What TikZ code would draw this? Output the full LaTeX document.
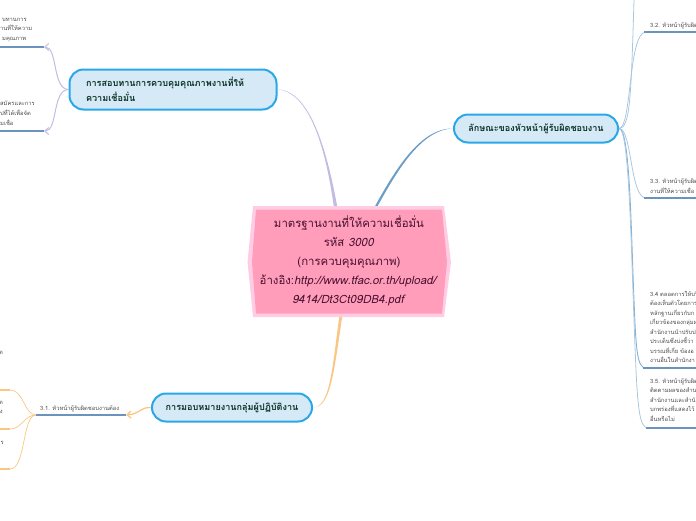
\documentclass[tikz,border=0pt]{standalone}
\usepackage{fontspec}
\setmainfont{Loma}[Script=Thai]
\usetikzlibrary{arrows.meta}
\definecolor{bluebd}{HTML}{2AA7E8}
\definecolor{bluefill}{HTML}{D6E9F6}
\definecolor{darkgreen}{HTML}{0B3326}
\definecolor{pinkfill}{HTML}{FF9DBB}
\definecolor{pinkbd}{HTML}{FFCDE3}
\definecolor{maroon}{HTML}{4A1030}
\definecolor{lav}{HTML}{C4BBE0}
\definecolor{steel}{HTML}{6C9DC6}
\definecolor{steellt}{HTML}{A9C8E0}
\definecolor{orng}{HTML}{F9C784}
\definecolor{ulcol}{HTML}{6C93BE}
\tikzset{
  x=1pt,y=-1pt,
  topic/.style={draw=bluebd,fill=bluefill,line width=2pt,rounded corners=14pt,text=darkgreen,font=\fontsize{9.1}{15}\selectfont\bfseries,minimum height=28pt,inner sep=0pt},
  leaf/.style={font=\fontsize{5.8}{9.5}\selectfont,text=black!70,anchor=north west,align=left,inner sep=0pt},
  cutleaf/.style={font=\fontsize{5.8}{9.7}\selectfont,text=black!70,anchor=west,align=left,inner sep=0pt},
  ulin/.style={draw=ulcol,line width=1.2pt},
  lavl/.style={draw=lav,line width=1pt},
  bl/.style={draw=steellt,line width=.8pt},
  orl/.style={draw=orng,line width=.7pt},
  barb/.style={-{Straight Barb[length=4pt,width=7pt]}},
}
\begin{document}
\begin{tikzpicture}
\useasboundingbox (0,0) rectangle (696,520);
% topics
\node[topic,minimum width=207pt,minimum height=40pt,align=left,text width=174pt] (t1) at (173,89.5) {การสอบทานการควบคุมคุณภาพงานที่ให้\\ความเชื่อมั่น};
\node[topic,minimum width=164pt] (t2) at (536,128.5) {ลักษณะของหัวหน้าผู้รับผิดชอบงาน};
\node[topic,minimum width=160pt] (t3) at (232,407.5) {การมอบหมายงานกลุ่มผู้ปฏิบัติงาน};
% main connectors (tapered)
\fill[lav] (334,208) .. controls (326,150) and (310,92) .. (t1.east) .. controls (310,90) and (327,150) .. (337.5,208) -- cycle;
\fill[steel] (374,208) .. controls (395,170) and (420,128) .. (t2.west) .. controls (421,129.5) and (397,171) .. (376.5,208) -- cycle;
\fill[orng] (339.5,315) .. controls (332,370) and (330,407) .. (t3.east) .. controls (331,408) and (334,370) .. (342.5,315) -- cycle;
% centre node
\fill[pinkbd] (247.5,262) -- (253,206) -- (444,206) -- (451,262) -- (444,317) -- (253,317) -- cycle;
\fill[pinkfill] (252,262) -- (256,209.5) -- (442,209.5) -- (447,262) -- (442,313.5) -- (256,313.5) -- cycle;
\node[text=maroon,align=center,font=\fontsize{11.4}{19}\selectfont] (ctext) at (349,261) {มาตรฐานงานที่ให้ความเชื่อมั่น\\รหัส \textit{3000}\\(การควบคุมคุณภาพ)\\อ้างอิง:\textit{http://www.tfac.or.th/upload/}\\\textit{9414/Dt3Ct09DB4.pdf}};
% left top leaves
\coordinate (l1) at (44,47);
\coordinate (l2) at (44,131);
\draw[ulin] (l1) -- (0,47);
\draw[ulin] (l2) -- (0,131);
\draw[lavl,barb] (t1.west) .. controls (52,89) and (58,47) .. (l1);
\draw[lavl,barb] (t1.west) .. controls (52,90) and (58,131) .. (l2);
\node[cutleaf] (a1) at (0,30) {\hspace*{2pt}บทานการ\\านที่ให้ความ\\\hspace*{2pt}มคุณภาพ};
\node[cutleaf] (a2) at (0,113) {สมัครและการ\\ุปที่ได้เพื่อจัด\\มเชื่อ};
% bottom left
\coordinate (n31) at (126,415);
\coordinate (nj) at (36,415);
\draw[orl] (nj) .. controls (24,415) and (24,390) .. (10,390);
\draw[orl] (nj) .. controls (24,415) and (22,429) .. (10,429);
\draw[orl] (nj) .. controls (22,415) and (26,469) .. (10,469);
\draw[draw=orng,line width=1.2pt] (0,390) -- (10,390);
\draw[draw=orng,line width=1.2pt] (0,429) -- (10,429);
\draw[draw=orng,line width=1.2pt] (0,469) -- (10,469);
\draw[draw=ulcol,line width=1.4pt] (nj) -- (n31);
\draw[barb,draw=orng,line width=1.3pt] (t3.west) .. controls (140,407) and (140,414) .. (n31);
\node[font=\fontsize{5.8}{8}\selectfont,text=black!70,anchor=south west,inner sep=0pt] (n) at (40,412.5) {3.1. หัวหน้าผู้รับผิดชอบงานต้อง};
\node[font=\fontsize{5.8}{8}\selectfont,text=black!70,anchor=east,inner sep=0pt] (b1) at (3,353) {ต};
\node[font=\fontsize{5.8}{9}\selectfont,text=black!70,anchor=east,align=right,inner sep=0pt] (b2) at (3,407.5) {ต\\ง};
\node[font=\fontsize{5.8}{8}\selectfont,text=black!70,anchor=east,inner sep=0pt] (b3) at (4,443) {ร};
% right branches
\draw[bl] (t2.east) .. controls (630,128) and (631,100) .. (634,0);
\draw[bl] (t2.east) .. controls (632,128) and (628,32) .. (646,32);
\draw[bl] (t2.east) .. controls (632,128) and (630,198) .. (646,198);
\draw[draw=steel!80,line width=.9pt] (t2.east) .. controls (630,128) and (631,230) .. (634,300) .. controls (636,350) and (637,368) .. (646,368);
\draw[bl] (t2.east) .. controls (630,128) and (631,260) .. (636,370) .. controls (638,410) and (640,428) .. (648,428);
\draw[ulin] (644,32) -- (696,32);
\draw[ulin] (644,198) -- (696,198);
\draw[ulin] (643,368) -- (696,368);
\draw[ulin] (646,428) -- (696,428);
\node[leaf] (r1) at (650,22) {3.2. หัวหน้าผู้รับผิด};
\node[leaf] (r2) at (650,178.5) {3.3. หัวหน้าผู้รับผิด\\งานที่ให้ความเชื่อ};
\node[leaf] (r3) at (650,291) {3.4 ตลอดการให้บริ\\ต้องเห็นตัวโดยการ\\หลักฐานเกี่ยวกับก\\เกี่ยวข้องของกลุ่มผ\\สำนักงานนำปรับป\\ประเด็นซึ่งบ่งชี้ว่า\\บรรณที่เกี่ย ข้องอ\\งานอื่นในสำนักงา};
\node[leaf] (r4) at (650,378) {3.5. หัวหน้าผู้รับผิด\\ติดตามผลของสำน\\สำนักงานและสำนั\\บกพร่องที่แสดงไว้\\อื่นหรือไม่};
\end{tikzpicture}
\end{document}
